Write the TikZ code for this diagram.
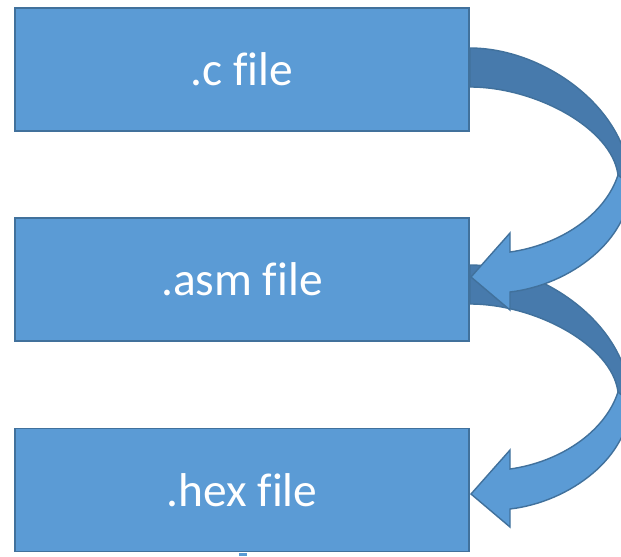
\documentclass[tikz,border=0pt]{standalone}
\usepackage{fontspec}
\setmainfont{Carlito}[Ligatures=NoCommon]
\usepackage{tikz}
\usetikzlibrary{positioning}

\definecolor{boxblue}{HTML}{5B9BD5}
\definecolor{edgeblue}{HTML}{41719C}
\definecolor{backblue}{RGB}{71,122,172}

\begin{document}
\begin{tikzpicture}[
			x = 0.02cm, y = 0.02cm,
			filebox/.style = {draw=edgeblue, fill=boxblue, line width=0.8pt,
				minimum width=9.08cm, minimum height=2.46cm, inner sep=0pt,
				text=white, font=\fontsize{27}{32}\selectfont},
			arrowpart/.style = {draw=edgeblue, line width=0.8pt, line join=miter}
			]
			\useasboundingbox (0,0) rectangle (621,556);

			\fill[boxblue] (239,0) rectangle (247,3.5);

			\node[filebox] (cfile) at (242,486.5) {.c file};
			\node[filebox] (asmfile) at (242,276.5) {.asm file};
			\node[filebox] (hexfile) at (242,66) {.hex file};

			% lower arrow first, upper one lies over its tail
			\foreach \dy in {-217,0}{
				\begin{scope}[shift={(0,\dy)}]
				\filldraw[arrowpart, fill=backblue] (470,508)
					.. controls (545,508) and (630,446) .. (630,371)
					-- (618,381) .. controls (612,428) and (535,469) .. (470,469) -- cycle;
				\filldraw[arrowpart, fill=boxblue] (630,371)
					.. controls (630,316) and (570,271) .. (510,264)
					-- (510,246) -- (471,279) -- (510,323) -- (510,304)
					.. controls (560,311) and (605,341) .. (618,381) -- cycle;
				\end{scope}
			}
\end{tikzpicture}
\end{document}
